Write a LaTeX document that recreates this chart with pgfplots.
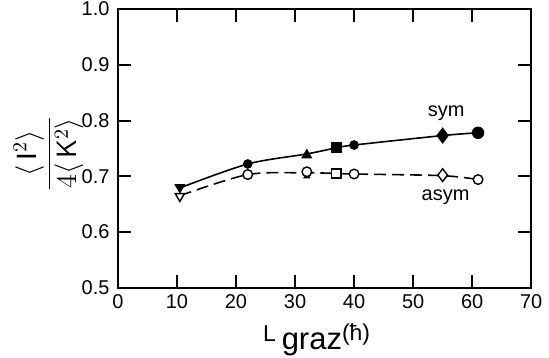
\documentclass[border=0pt]{standalone}
\usepackage{amsmath}
\usepackage{fontspec}
\setmainfont{Liberation Sans}
\usepackage{pgfplots}
\pgfplotsset{compat=1.18}
\begin{document}
\begin{tikzpicture}
\begin{axis}[
  scale only axis,
  width=207pt, height=139.5pt,
  xmin=0, xmax=70, ymin=0.5, ymax=1.0,
  xtick={0,10,...,70}, ytick={0.5,0.6,...,1.0},
  tick align=inside, tick pos=both,
  major tick length=6.5pt,
  axis line style={line width=1pt},
  every tick/.style={line width=1pt,black},
  /pgf/number format/assume math mode=true,
  yticklabel style={/pgf/number format/fixed,/pgf/number format/precision=1,/pgf/number format/fixed zerofill,font=\fontsize{10}{12}\selectfont, inner sep=1pt, xshift=-3pt},
  xticklabel style={font=\fontsize{10}{12}\selectfont},
  xlabel={\fontsize{15.5}{17}\selectfont\raisebox{4pt}{\fontsize{11.5}{13}\selectfont L}\hspace{3pt}graz\raisebox{4.5pt}{\fontsize{11.5}{13}\selectfont(ħ)}},
  xlabel style={at={(axis description cs:0.5,0)}, anchor=base, inner sep=0pt, yshift=-31pt, xshift=-4pt},
  ylabel={\fontsize{14}{16}\selectfont$\dfrac{\langle\,\mathrm{I}^2\rangle}{4\langle\,\mathsf{K}^2\rangle}$},
  ylabel style={at={(axis description cs:0,0.5)}, anchor=center, inner sep=0pt, xshift=-2.5pt, yshift=34.75pt},
  clip=false,
]
% curves
\addplot[black, line width=0.8pt, smooth, no marks] coordinates {(10.5,0.679) (22,0.722) (32,0.740) (37,0.751) (40,0.756) (55,0.773) (61,0.778)};
\addplot[black, line width=0.8pt, dashed, dash pattern=on 6pt off 3pt, smooth, no marks] coordinates {(10.5,0.665) (22,0.703) (32,0.706) (37,0.705) (40,0.704) (55,0.701) (61,0.694)};
% sym markers
\addplot[only marks, mark=triangle*, mark options={rotate=180, fill=black, scale=1.4}] coordinates {(10.5,0.680)};
\addplot[only marks, mark=*, mark options={fill=black, scale=1.1}] coordinates {(22,0.722) (40,0.756)};
\addplot[only marks, mark=triangle*, mark options={fill=black, scale=1.4}] coordinates {(32,0.738)};
\addplot[only marks, mark=square*, mark options={fill=black, scale=1.2}] coordinates {(37,0.752)};
\addplot[only marks, mark=diamond*, mark options={fill=black, scale=1.9}] coordinates {(55,0.773)};
\addplot[only marks, mark=*, mark options={fill=black, scale=1.45}] coordinates {(61,0.778)};
% asym markers
\addplot[only marks, mark=triangle*, mark options={rotate=180, fill=white, scale=1.3, line width=0.7pt}] coordinates {(10.5,0.664)};
\addplot[only marks, mark=triangle*, mark options={fill=white, scale=0.8, line width=0.6pt}] coordinates {(32,0.700)};
\addplot[only marks, mark=*, mark options={fill=white, scale=1.2, line width=0.7pt}] coordinates {(22,0.703) (32,0.708) (40,0.704) (61,0.694)};
\addplot[only marks, mark=square*, mark options={fill=white, scale=1.15, line width=0.7pt}] coordinates {(37,0.705)};
\addplot[only marks, mark=diamond*, mark options={fill=white, scale=1.6, line width=0.7pt}] coordinates {(55,0.702)};
\node[font=\fontsize{10}{12}\selectfont] at (axis cs:55.6,0.813) {sym};
\node[font=\fontsize{10}{12}\selectfont] at (axis cs:55.5,0.662) {asym};
\end{axis}
\path (current axis.south west) ++(-59pt,-35pt);
\path (current axis.north east) ++(8.5pt,4.5pt);
\end{tikzpicture}
\end{document}
